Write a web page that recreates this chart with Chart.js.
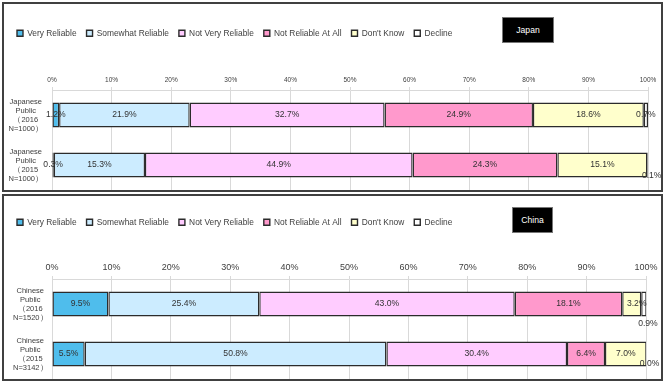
<!DOCTYPE html>
<html>
<head>
<meta charset="utf-8">
<script src="https://cdn.jsdelivr.net/npm/chart.js@4.4.1/dist/chart.umd.min.js"></script>
<style>
  body { margin: 0; background: #fff; font-family: "Liberation Sans", Arial, sans-serif; }
  .panel { position: absolute; left: 2px; width: 657px; border: 2px solid #404040; background: #fff; }
  .panel canvas { display: block; }
  .tag { position: absolute; background: #000; color: #fff; border: 1px solid #777; font-size: 8.6px;
         text-align: center; box-sizing: border-box; }
</style>
</head>
<body>
<div class="panel" id="p1" style="top:2px;height:186px;">
  <canvas id="japanChart" width="657" height="186"></canvas>
</div>
<div class="tag" style="left:502px;top:17px;width:52px;height:26px;line-height:24px;">Japan</div>
<div class="panel" id="p2" style="top:194px;height:183px;">
  <canvas id="chinaChart" width="657" height="183"></canvas>
</div>
<div class="tag" style="left:512px;top:207px;width:41px;height:26px;line-height:24px;">China</div>

<script>
// series (answers), same order for both surveys
var seriesNames = ["Very Reliable", "Somewhat Reliable", "Not Very Reliable", "Not Reliable At All", "Don't Know", "Decline"];
var seriesColors = ["#4fbdec", "#ccecff", "#ffccff", "#ff99cc", "#ffffcc", "#ffffff"];

// categories (y axis)
var japanCategories = [["Japanese", "Public", "（2016", "N=1000）"], ["Japanese", "Public", "（2015", "N=1000）"]];
var chinaCategories = [["Chinese", "Public", "（2016", "N=1520）"], ["Chinese", "Public", "（2015", "N=3142）"]];

// values in %, one array per survey row
var japan2016 = [1.2, 21.9, 32.7, 24.9, 18.6, 0.7];
var japan2015 = [0.3, 15.3, 44.9, 24.3, 15.1, 0.1];
var china2016 = [9.5, 25.4, 43.0, 18.1, 3.2, 0.9];
var china2015 = [5.5, 50.8, 30.4, 6.4, 7.0, 0.0];

// x axis ticks
var axisMax = 100;
var axisStep = 10;

var FONT = "'Liberation Sans', Arial, sans-serif";

// draws the value labels on each bar segment
var valueLabels = {
  id: "valueLabels",
  afterDatasetsDraw: function(chart, args, opts) {
    var ctx = chart.ctx;
    ctx.save();
    ctx.font = opts.size + "px " + FONT;
    ctx.fillStyle = "#333";
    ctx.textAlign = "center";
    ctx.textBaseline = "middle";
    chart.data.datasets.forEach(function(ds, i) {
      var meta = chart.getDatasetMeta(i);
      meta.data.forEach(function(bar, j) {
        var nudge = (opts.nudge || {})[i + "-" + j] || [0, 0];
        var x = (bar.x + bar.base) / 2 + nudge[0];
        ctx.fillText(ds.data[j].toFixed(1) + "%", x, bar.y + nudge[1]);
      });
    });
    ctx.restore();
  }
};

function makeChart(id, categories, rows, cfg) {
  var datasets = seriesNames.map(function(name, s) {
    return {
      label: name,
      data: rows.map(function(r) { return r[s]; }),
      backgroundColor: seriesColors[s],
      borderColor: "#2b2b2b",
      borderWidth: 1.4,
      borderSkipped: false,
      categoryPercentage: 1,
      barPercentage: 0.5
    };
  });

  var padTop = cfg.padTop;
  return new Chart(document.getElementById(id).getContext("2d"), {
    type: "bar",
    data: { labels: categories, datasets: datasets },
    plugins: [valueLabels],
    options: {
      indexAxis: "y",
      animation: false,
      responsive: false,
      layout: { padding: { top: padTop, left: 3, right: cfg.padRight, bottom: 0 } },
      plugins: {
        tooltip: { enabled: false },
        legend: {
          position: "top",
          align: "start",
          labels: {
            boxWidth: 6, boxHeight: 6, padding: 10,
            color: "#404040",
            font: { family: FONT, size: 8.4 }
          }
        },
        valueLabels: { size: 8.6, nudge: cfg.nudge }
      },
      scales: {
        x: {
          position: "top",
          stacked: true,
          min: 0, max: axisMax,
          ticks: {
            stepSize: axisStep,
            maxRotation: 0,
            padding: cfg.tickPad,
            color: "#404040",
            font: { family: FONT, size: cfg.tickSize },
            callback: function(v) { return v + "%"; }
          },
          grid: { color: "#d9d9d9", tickLength: 3 },
          border: { color: "#d9d9d9" },
          afterFit: function(scale) {
            scale.height = cfg.areaTop - padTop - scale.chart.legend.height;
            scale.paddingLeft = 0;
            scale.paddingRight = 0;
          }
        },
        y: {
          stacked: true,
          grid: { display: false, drawTicks: false },
          border: { display: false },
          ticks: {
            autoSkip: false,
            crossAlign: "center",
            padding: cfg.catPad,
            color: "#404040",
            font: { family: FONT, size: 7.5 }
          },
          afterFit: function(scale) {
            scale.width = 45;
            scale.paddingTop = 0;
            scale.paddingBottom = 0;
          }
        }
      }
    }
  });
}

makeChart("japanChart", japanCategories, [japan2016, japan2015], {
  padTop: 15, padRight: 13, areaTop: 86, tickSize: 6.5, tickPad: 3, catPad: 9,
  nudge: { "5-1": [4, 11] }
});

makeChart("chinaChart", chinaCategories, [china2016, china2015], {
  padTop: 12, padRight: 15, areaTop: 83, tickSize: 9, tickPad: 3.5, catPad: 4.5,
  nudge: { "4-0": [5, 0], "5-0": [4, 20], "5-1": [3, 10] }
});
</script>
</body>
</html>
